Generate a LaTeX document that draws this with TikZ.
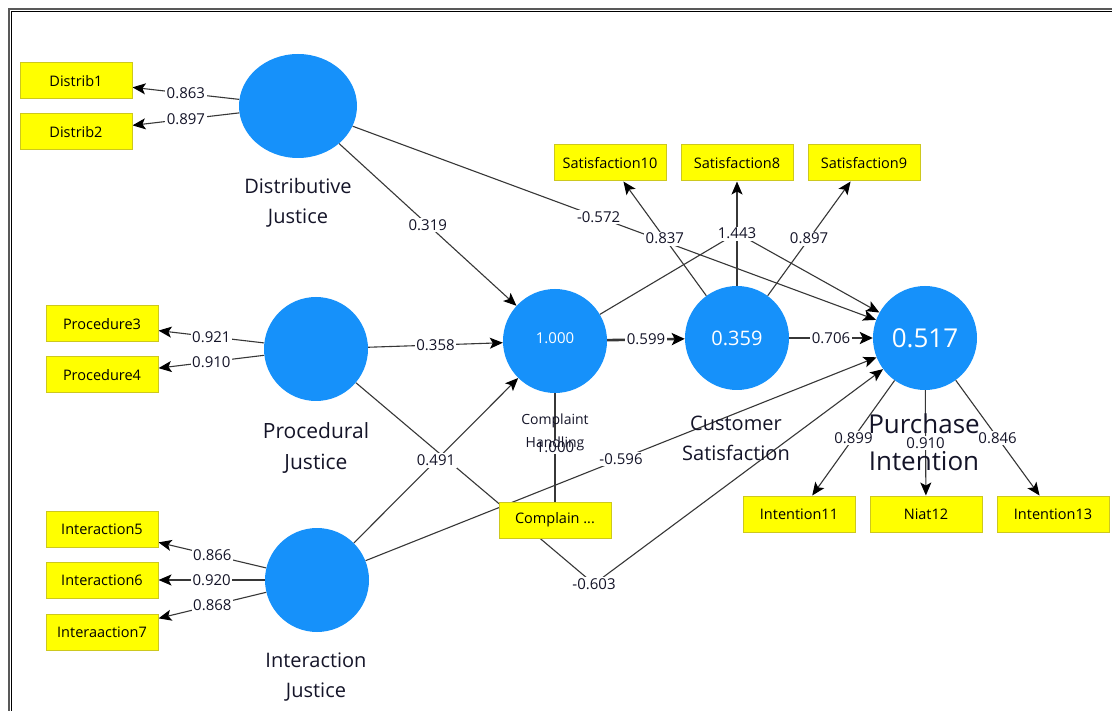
\documentclass[tikz,border=0pt]{standalone}
\usepackage{fontspec}
\setmainfont{Open Sans}
\usetikzlibrary{arrows.meta,shapes.geometric}
\definecolor{lv}{RGB}{22,145,250}
\definecolor{ybox}{RGB}{255,255,0}
\definecolor{yborder}{RGB}{205,200,30}
\definecolor{lnc}{RGB}{55,55,55}
\definecolor{txt}{RGB}{20,20,40}
\pgfdeclarelayer{bg}
\pgfsetlayers{bg,main}
\begin{document}
\begin{tikzpicture}[x=1pt,y=-1pt,
  lvar/.style={circle,fill=lv,minimum size=104pt,inner sep=0pt,text=white},
  ind/.style={rectangle,fill=ybox,draw=yborder,line width=1pt,minimum width=112pt,minimum height=36pt,inner sep=0pt,font=\fontsize{14.5}{16}\selectfont,text=black},
  conn/.style={draw=lnc,line width=1.1pt,-{Stealth[length=13pt,width=11pt,inset=3pt,fill=black,color=black]}},
  thickconn/.style={draw=lnc,line width=2.6pt,-{Stealth[length=13pt,width=12pt,inset=3pt,fill=black,color=black]}},
  plain/.style={draw=lnc,line width=1.1pt},
  coef/.style={fill=white,inner sep=1.5pt,font=\fontsize{15}{17}\selectfont,text=txt},
  lvname/.style={align=center,text=txt}
]
\useasboundingbox (0,0) rectangle (1112,711);
\begin{pgfonlayer}{bg}
\fill[white] (0,0) rectangle (1112,711);
\end{pgfonlayer}
% frame
\draw[line width=1.6pt,gray!70!black] (8.8,711) -- (8.8,8.8) -- (1112,8.8);
\draw[line width=1pt,black] (11.5,711) -- (11.5,11.5) -- (1112,11.5);

% latent variables
\node[lvar,ellipse,minimum width=118pt,minimum height=104pt] (dj) at (298,106) {};
\node[lvar] (pj) at (316,349) {};
\node[lvar] (ij) at (317,580) {};
\node[lvar,font=\fontsize{15}{17}\selectfont] (ch) at (555,341) {\raisebox{5pt}{1.000}};
\node[lvar,font=\fontsize{20}{22}\selectfont] (cs) at (737,338) {0.359};
\node[lvar,font=\fontsize{26}{28}\selectfont] (pi) at (925,338) {0.517};

% indicators
\node[ind] (d1) at (76,81) {Distrib1};
\node[ind] (d2) at (76,132) {Distrib2};
\node[ind] (p3) at (102,324) {Procedure3};
\node[ind] (p4) at (102,375) {Procedure4};
\node[ind] (i5) at (102,529) {Interaction5};
\node[ind] (i6) at (102,580) {Interaction6};
\node[ind] (i7) at (102,632) {Interaaction7};
\node[ind] (s10) at (610,163) {Satisfaction10};
\node[ind] (s8) at (737,163) {Satisfaction8};
\node[ind] (s9) at (864,163) {Satisfaction9};
\node[ind] (n11) at (799,514) {Intention11};
\node[ind] (n12) at (926,514) {Niat12};
\node[ind] (n13) at (1053,514) {Intention13};
\node[ind] (cb) at (555,520) {Complain ...};

\coordinate (bA) at (737,233);
\coordinate (bB) at (594,584);

% connectors
\begin{pgfonlayer}{bg}
\draw[conn] (dj) -- (d1);
\draw[conn] (dj) -- (d2);
\draw[conn] (pj) -- (p3);
\draw[conn] (pj) -- (p4);
\draw[conn] (ij) -- (i5);
\draw[conn] (ij) -- (i6);
\draw[conn] (ij) -- (i7);
\draw[conn] (cs) -- (s10);
\draw[conn] (cs) -- (s8);
\draw[conn] (cs) -- (s9);
\draw[conn] (pi) -- (n11);
\draw[conn] (pi) -- (n12);
\draw[conn] (pi) -- (n13);
\draw[plain] (ch) -- (cb);
\draw[conn] (dj) -- (ch);
\draw[conn] (dj) -- (pi);
\draw[conn] (pj) -- (ch);
\draw[conn] (ij) -- (ch);
\draw[conn] (ij) -- (pi);
\draw[conn] (pj) -- (bB) -- (pi);
\draw[conn] (ch) -- (bA) -- (pi);
\draw[thickconn] (ch) -- (cs);
\draw[thickconn] (cs) -- (pi);
\end{pgfonlayer}

% coefficient labels
\path (dj) -- (d1) node[coef,midway] {0.863};
\path (dj) -- (d2) node[coef,midway] {0.897};
\path (pj) -- (p3) node[coef,midway] {0.921};
\path (pj) -- (p4) node[coef,midway] {0.910};
\path (ij) -- (i5) node[coef,midway] {0.866};
\path (ij) -- (i6) node[coef,midway] {0.920};
\path (ij) -- (i7) node[coef,midway] {0.868};
\path (cs) -- (s10) node[coef,midway] {0.837};
\path (cs) -- (s8) node[coef,midway] {1.443};
\path (cs) -- (s9) node[coef,midway] {0.897};
\path (pi) -- (n11) node[coef,midway] {0.899};
\path (pi) -- (n12) node[coef,midway] {0.910};
\path (pi) -- (n13) node[coef,midway] {0.846};
\path (ch) -- (cb) node[coef,midway] {1.000};
\path (dj) -- (ch) node[coef,midway] {0.319};
\path (dj) -- (pi) node[coef,pos=0.47] {-0.572};
\path (pj) -- (ch) node[coef,midway] {0.358};
\path (ij) -- (ch) node[coef,midway] {0.491};
\path (ij) -- (pi) node[coef,midway] {-0.596};
\path (ch) -- (cs) node[coef,midway] {0.599};
\path (cs) -- (pi) node[coef,midway] {0.706};
\node[coef] (lB) at (bB) {-0.603};

% construct names
\node[lvname,font=\fontsize{20}{30}\selectfont] (njd) at (298,203) {Distributive\\Justice};
\node[lvname,font=\fontsize{21}{31}\selectfont] (njp) at (316,448) {Procedural\\Justice};
\node[lvname,font=\fontsize{20}{30}\selectfont] (nji) at (316,677) {Interaction\\Justice};
\node[lvname,font=\fontsize{14}{23}\selectfont] (nch) at (555,432) {Complaint\\Handling};
\node[lvname,font=\fontsize{20}{30}\selectfont] (ncs) at (736,438) {Customer\\Satisfaction};
\node[lvname,font=\fontsize{26}{37}\selectfont] (npi) at (924,442) {Purchase\\Intention};
\end{tikzpicture}
\end{document}
